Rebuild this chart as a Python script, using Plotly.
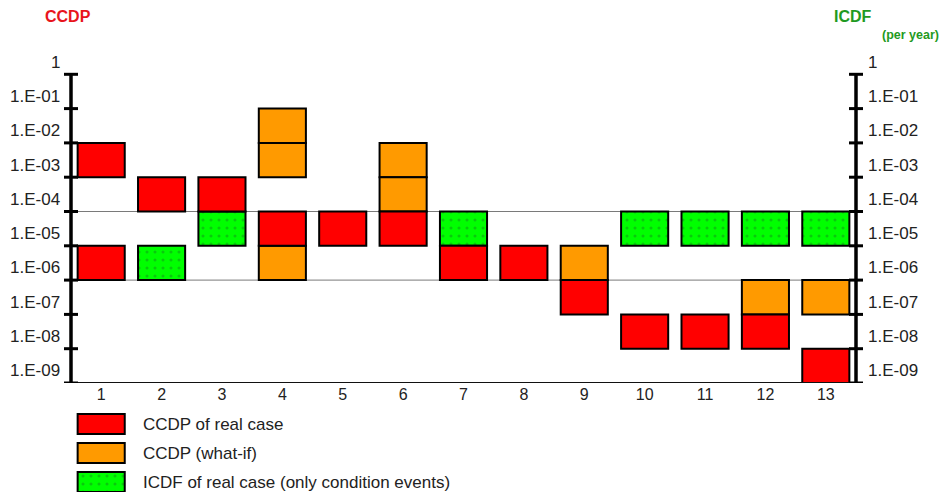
import plotly.graph_objects as go

# ---------------- data ----------------
cases = list(range(1, 14))
case_labels = [str(c) for c in cases]
decade_exps = list(range(0, 10))                      # 10^0 ... 10^-9
tick_labels = ["1", "1.E-01", "1.E-02", "1.E-03", "1.E-04",
               "1.E-05", "1.E-06", "1.E-07", "1.E-08", "1.E-09"]

# each box covers one decade centred on 10^-exp
red_case = [1, 1, 2, 3, 4, 5, 6, 7, 8, 9, 10, 11, 12, 13]
red_exp = [3, 6, 4, 4, 5, 5, 5, 6, 6, 7, 8, 8, 8, 9]
orange_case = [4, 4, 4, 6, 6, 9, 12, 13]
orange_exp = [2, 3, 6, 3, 4, 6, 7, 7]
green_case = [2, 3, 7, 10, 11, 12, 13]
green_exp = [6, 5, 5, 5, 5, 5, 5]

band_lines = [4.5, 6.5]   # horizontal separators (in decade units)

legend_names = ["CCDP of real case", "CCDP (what-if)",
                "ICDF of real case (only condition events)"]

# ---------------- style ----------------
RED = "#ff0000"
ORANGE = "#ff9a00"
GREEN = "#00ff00"
DOT = "#12931a"
FONT = "Liberation Sans, Arial, sans-serif"
BOX_W = 0.78

OFF = 8                      # page body margin of the browser
SW, SH = 947, 492            # screen size
W, H = SW - OFF, SH - OFF    # figure size
# screen-pixel layout targets
AX_L, AX_R, AX_T = 71, 856, 40
main_bottom = 383
legend_top = 400

ML, MR, MT, MB = AX_L - OFF, SW - AX_R, AX_T - OFF, 0
PW, PH = W - ML - MR, H - MT - MB


def px(xs):
    """screen x pixel -> paper"""
    return (xs - AX_L) / PW


def py(ys):
    """screen y pixel -> paper"""
    return (SH - ys) / PH


fig = go.Figure()

green_pattern = dict(shape=".", fgcolor=DOT, bgcolor=GREEN, size=8, solidity=0.12)


def add_boxes(xs, exps, color, pattern=None):
    marker = dict(color=color, line=dict(color="black", width=2))
    if pattern:
        marker["pattern"] = pattern
    fig.add_trace(go.Bar(
        x=xs, y=[1] * len(xs), base=[-e - 0.5 for e in exps],
        width=BOX_W, marker=marker, showlegend=False, hoverinfo="skip",
        xaxis="x", yaxis="y"))


add_boxes(green_case, green_exp, GREEN, green_pattern)
add_boxes(orange_case, orange_exp, ORANGE)
add_boxes(red_case, red_exp, RED)

# legend swatches on an auxiliary axis pair
legend_colors = [RED, ORANGE, GREEN]
legend_patterns = [None, None, green_pattern]
row_sp = 29.0
row0 = 424
sw_h = 20 / row_sp
for i, (col, pat) in enumerate(zip(legend_colors, legend_patterns)):
    marker = dict(color=col, line=dict(color="black", width=2))
    if pat:
        marker["pattern"] = pat
    fig.add_trace(go.Bar(
        x=[cases[0]], y=[sw_h], base=[i - sw_h / 2], width=BOX_W,
        marker=marker, showlegend=False, hoverinfo="skip",
        xaxis="x2", yaxis="y2"))

shapes = []
ymin = -(decade_exps[-1] + 0.5)
ymax = -(decade_exps[1] - 0.5)
# separator lines
for b in band_lines:
    shapes.append(dict(type="line", xref="paper", yref="y", x0=0, x1=1,
                       y0=-b, y1=-b, line=dict(color="#7a7a7a", width=1),
                       layer="below"))
# bottom line
shapes.append(dict(type="line", xref="paper", yref="y", x0=0, x1=1,
                   y0=ymin, y1=ymin, line=dict(color="#111", width=2)))
# vertical axes
for xa in (0, 1):
    shapes.append(dict(type="line", xref="paper", yref="y", x0=xa, x1=xa,
                       y0=ymin, y1=ymax, line=dict(color="black", width=3.5)))
# tick marks crossing the axes at every decade edge
edges = [-(e - 0.5) for e in decade_exps[1:]] + [ymin]
for e in edges:
    for xa in (0, 1):
        shapes.append(dict(type="line", xref="paper", yref="y",
                           x0=xa - 7 / PW, x1=xa + 7 / PW, y0=e, y1=e,
                           line=dict(color="black", width=3)))

annotations = []
for e, lab in zip(decade_exps, tick_labels):
    annotations.append(dict(xref="paper", yref="y", x=0, y=-e, text=lab,
                            showarrow=False, xanchor="right", yanchor="middle",
                            xshift=-9, yshift=-5,
                            font=dict(family=FONT, size=17, color="#222")))
    annotations.append(dict(xref="paper", yref="y", x=1, y=-e, text=lab,
                            showarrow=False, xanchor="left", yanchor="middle",
                            xshift=10, yshift=-5,
                            font=dict(family=FONT, size=17, color="#222")))

# titles
annotations.append(dict(xref="paper", yref="paper", x=px(68), y=py(17),
                        text="<b>CCDP</b>", showarrow=False, xanchor="center",
                        yanchor="middle", font=dict(family=FONT, size=16, color="#e8141c")))
annotations.append(dict(xref="paper", yref="paper", x=px(853), y=py(17),
                        text="<b>ICDF</b>", showarrow=False, xanchor="center",
                        yanchor="middle", font=dict(family=FONT, size=16, color="#1f9a22")))
annotations.append(dict(xref="paper", yref="paper", x=px(880), y=py(35),
                        text="<b>(per year)</b>", showarrow=False, xanchor="left",
                        yanchor="middle", font=dict(family=FONT, size=12.5, color="#1f9a22")))

# legend texts
for i, name in enumerate(legend_names):
    annotations.append(dict(xref="paper", yref="y2", x=px(141), y=i, text=name,
                            showarrow=False, xanchor="left", yanchor="middle",
                            font=dict(family=FONT, size=17, color="#222")))

fig.update_layout(
    width=W, height=H,
    margin=dict(l=ML, r=MR, t=MT, b=MB),
    paper_bgcolor="white", plot_bgcolor="rgba(0,0,0,0)",
    barmode="overlay",
    xaxis=dict(domain=[0, 1], range=[0.5, 13.5], tickvals=cases, ticktext=case_labels,
               showgrid=False, zeroline=False, showline=False, ticks="",
               tickfont=dict(family=FONT, size=16, color="#222"), anchor="y"),
    yaxis=dict(domain=[py(main_bottom), 1], range=[ymin, 0.5], showgrid=False,
               zeroline=False, showline=False, showticklabels=False, ticks="",
               anchor="x"),
    xaxis2=dict(domain=[0, 1], range=[0.5, 13.5], visible=False, anchor="y2"),
    yaxis2=dict(domain=[0, py(legend_top)],
                range=[(SH - row0) / row_sp, (legend_top - row0) / row_sp],
                visible=False, anchor="x2"),
    shapes=shapes, annotations=annotations,
)

fig.write_html("out.html")
